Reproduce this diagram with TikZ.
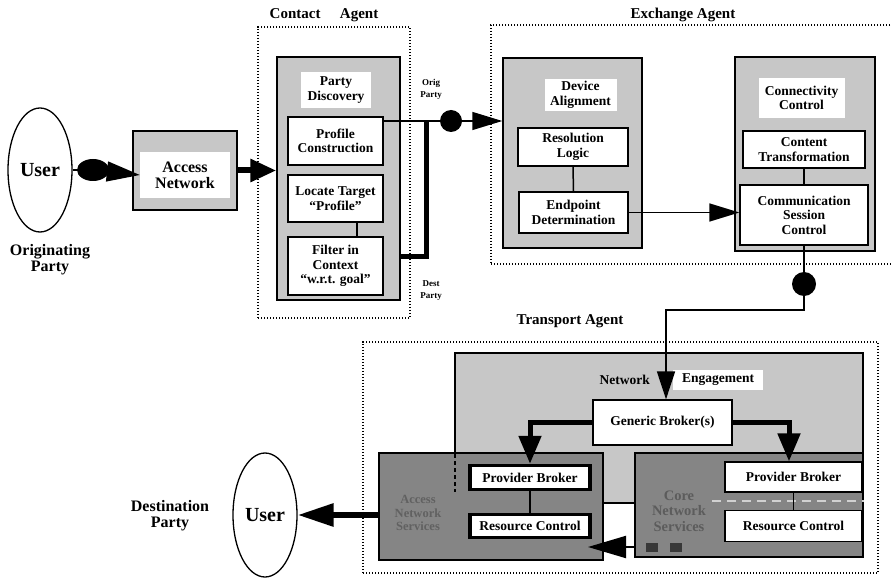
\documentclass[tikz,border=0pt]{standalone}
\usepackage{fontspec}
\setmainfont{Liberation Serif}
\usetikzlibrary{arrows.meta,shapes.geometric}

\newcommand\fBox{\fontsize{13.5}{14.5}\selectfont\bfseries}
\newcommand\fSmall{\fontsize{9}{12}\selectfont\bfseries}
\newcommand\fMid{\fontsize{16}{16}\selectfont\bfseries}
\newcommand\fTitle{\fontsize{15}{16}\selectfont\bfseries}
\newcommand\fUser{\fontsize{20}{22}\selectfont\bfseries}

\tikzset{
  agent/.style={draw, dash pattern=on 1.4pt off 1.6pt, line width=1.3pt, inner sep=0pt},
  shadebox/.style={draw, line width=1.5pt, fill=black!22, inner sep=0pt},
  darkbox/.style={draw, line width=1.5pt, fill=black!48, inner sep=0pt},
  wbox/.style={draw, line width=1.3pt, fill=white, align=center, inner sep=1pt, font=\fBox},
  heavybox/.style={wbox, line width=3.5pt},
  lbl/.style={fill=white, align=center, inner sep=0pt, font=\fBox},
  plain/.style={align=center, inner sep=0pt, font=\fBox},
  title/.style={inner sep=0pt, font=\fTitle},
  user/.style={ellipse, draw, line width=1.3pt, inner sep=0pt,
    minimum width=64pt, minimum height=124pt, font=\fUser},
  blob/.style={circle, fill=black, inner sep=0pt},
  wire/.style={line width=1.5pt},
  fatwire/.style={line width=6pt},
  bighead/.style={-{Triangle[length=30pt,width=18pt]}},
  fathead/.style={-{Triangle[length=26pt,width=22pt]}},
}

\begin{document}
\begin{tikzpicture}[x=1pt,y=-1pt]
\useasboundingbox (0,0) rectangle (891,585);

% agent frames and their titles
\node[agent, minimum width=152pt, minimum height=291pt] (contact) at (334,172.5) {};
\node[agent, minimum width=404pt, minimum height=239pt] (exchange) at (693,144.5) {};
\node[agent, minimum width=515pt, minimum height=231pt] (transport) at (620.5,457.5) {};
\node[title] (contactT) at (324,15) {Contact\hspace{1.3em}Agent};
\node[title] (exchangeT) at (683,15) {Exchange Agent};
\node[title] (transportT) at (570,321) {Transport Agent};

% originating side
\node[user] (userA) at (40,170) {User};
\node[plain, font=\fMid] (origT) at (50,260) {Originating\\Party};
\node[ellipse, fill=black, inner sep=0pt, minimum width=32pt, minimum height=22pt] (dot1) at (93,170) {};
\node[shadebox, minimum width=104pt, minimum height=79pt] (access) at (185,170.5) {};
\node[lbl, minimum width=90pt, minimum height=46pt, font=\fMid] (accessT) at (185,175) {Access\\Network};

% contact agent: party discovery
\node[shadebox, minimum width=123pt, minimum height=243pt] (pd) at (338.5,178.5) {};
\node[lbl, minimum width=70pt, minimum height=36pt] (pdT) at (336,90) {Party\\Discovery};
\node[wbox, minimum width=95pt, minimum height=48pt] (prof) at (335.5,141) {Profile\\Construction};
\node[wbox, minimum width=95pt, minimum height=47pt] (loc) at (335.5,198.5) {Locate Target\\``Profile''};
\node[wbox, minimum width=95pt, minimum height=58pt] (filt) at (335.5,266) {Filter in\\Context\\``w.r.t. goal''};
\coordinate (lf) at (357,0);
\draw[wire] (loc.south -| lf) -- (filt.north -| lf);

\node[plain, font=\fSmall] (origP) at (431,89) {Orig\\Party};
\node[plain, font=\fSmall] (destP) at (431,291) {Dest\\Party};

% exchange agent: device alignment
\node[shadebox, minimum width=139pt, minimum height=190pt] (dev) at (572.5,153) {};
\node[lbl, minimum width=72pt, minimum height=32pt] (devT) at (580.5,95) {Device\\Alignment};
\node[wbox, minimum width=110pt, minimum height=38pt] (res) at (573,147) {Resolution\\Logic};
\node[wbox, minimum width=109pt, minimum height=41pt] (endp) at (573.5,212.5) {Endpoint\\Determination};
\draw[wire] (res.south) -- (endp.north);

% exchange agent: connectivity control
\node[shadebox, minimum width=140pt, minimum height=194pt] (conn) at (805,154) {};
\node[lbl, minimum width=86pt, minimum height=40pt] (connT) at (801.5,98) {Connectivity\\Control};
\node[wbox, minimum width=122pt, minimum height=37pt] (cont) at (804,149.5) {Content\\Transformation};
\node[wbox, minimum width=128pt, minimum height=60pt] (comm) at (804,215) {Communication\\Session\\Control};
\draw[wire] (cont.south) -- (comm.north);

% transport agent: network engagement
\node[shadebox, minimum width=408pt, minimum height=150pt] (ne) at (659,428) {};
\node[lbl, minimum width=90pt, minimum height=20pt, anchor=west] (neT2) at (673,380) {Engagement};
\node[plain, anchor=east] (neT1) at (650,380) {Network};
\node[wbox, minimum width=139pt, minimum height=45pt] (gb) at (662.5,422.5) {Generic Broker(s)};

% access and core network services
\node[darkbox, minimum width=224pt, minimum height=107pt] (ans) at (491,506.5) {};
\node[darkbox, minimum width=228pt, minimum height=104pt] (cns) at (749,505) {};
\node[plain, text=black!62, font=\fontsize{12.5}{13.5}\selectfont\bfseries] (ansT) at (418,513) {Access\\Network\\Services};
\node[plain, text=black!64, font=\fontsize{14.5}{15.5}\selectfont\bfseries] (cnsT) at (679,511) {Core\\Network\\Services};
\draw[dash pattern=on 4pt off 3pt, line width=1.5pt] (455,454) -- (455,492);
\draw[black!18, dash pattern=on 9pt off 6pt, line width=1.3pt] (712,501) -- (cns.east |- 0,501);
\node[fill=black!78, minimum width=12pt, minimum height=9pt, inner sep=0pt] (sq1) at (652,547) {};
\node[fill=black!78, minimum width=12pt, minimum height=9pt, inner sep=0pt] (sq2) at (676,547) {};

\node[heavybox, minimum width=120pt, minimum height=24pt] (pbL) at (530,477.5) {Provider Broker};
\node[heavybox, minimum width=120pt, minimum height=23pt] (rcL) at (530,526) {Resource Control};
\draw[wire] (pbL.south) -- (rcL.north);
\node[wbox, minimum width=137pt, minimum height=30pt] (pbR) at (793.5,477) {Provider Broker};
\node[wbox, minimum width=137pt, minimum height=31pt] (rcR) at (793.5,526) {Resource Control};
\draw[wire] (pbR.south) -- (rcR.north);

% destination side
\node[user] (userB) at (265,515) {User};
\node[plain, font=\fMid] (destT) at (170,516) {Destination\\Party};

% connectors on the originating side
\draw[wire] (userA.east) -- (dot1);
\draw[wire, -{Triangle[length=33pt,width=20pt]}] (dot1) -- (accessT.west);
\draw[fatwire, fathead] (access.east) -- (pd.west |- access.east);

% contact agent outputs
\node[blob, minimum size=22pt] (dot2) at (451,121) {};
\coordinate (jo) at (426,121);
\coordinate (jd) at (426,257);
\draw[wire] (prof.east |- dot2) -- (dot2);
\draw[wire, bighead] (dot2) -- (dev.west |- dot2);
\draw[line width=5pt] (pd.east |- jd) -- (jd) -- (jo);

% exchange agent internal flow and hand-off to transport
\draw[wire, bighead] (endp.east) -- (comm.west |- endp.east);
\node[blob, minimum size=24pt] (dot3) at (804,284) {};
\draw[wire] (comm.south) -- (dot3);
\coordinate (t1) at (804,310);
\coordinate (t2) at (666,310);
\draw[wire, -{Triangle[length=28pt,width=18pt]}] (dot3) -- (t1) -- (t2) -- (gb.north -| t2);

% generic broker to the provider brokers
\coordinate (bl) at (530,422.5);
\coordinate (br) at (789,422.5);
\draw[line width=5pt, -{Triangle[length=28pt,width=22pt]}] (gb.west) -- (bl) -- (pbL.north);
\draw[line width=5pt, -{Triangle[length=28pt,width=22pt]}] (gb.east) -- (br) -- (pbR.north -| br);

% core services back into access services, then out to the user
\coordinate (ab) at (588,547);
\draw[line width=2pt, -{Triangle[length=38pt,width=22pt]}] (cns.west |- ab) -- (ab);
\draw[fatwire, -{Triangle[length=36pt,width=22pt]}] (ans.west |- userB) -- (userB.east);
\end{tikzpicture}
\end{document}
